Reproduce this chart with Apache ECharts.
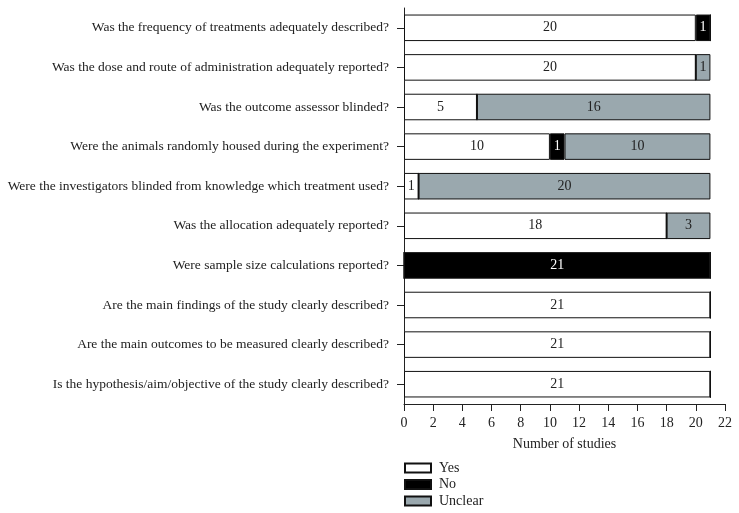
<!DOCTYPE html>
<html>
<head>
<meta charset="utf-8">
<script src="https://cdn.jsdelivr.net/npm/echarts@6/dist/echarts.min.js"></script>
<style>
  html, body { margin: 0; padding: 0; background: #fff; }
  #main { width: 739px; height: 513px; }
</style>
</head>
<body>
<div id="main"></div>
<script>
var questions = [
	'Is the hypothesis/aim/objective of the study clearly described?',
	'Are the main outcomes to be measured clearly described?',
	'Are the main findings of the study clearly described?',
	'Were sample size calculations reported?',
	'Was the allocation adequately reported?',
	'Were the investigators blinded from knowledge which treatment used?',
	'Were the animals randomly housed during the experiment?',
	'Was the outcome assessor blinded?',
	'Was the dose and route of administration adequately reported?',
	'Was the frequency of treatments adequately described?'
];
var yesCounts = [21, 21, 21, 0, 18, 1, 10, 5, 20, 20];
var noCounts = [0, 0, 0, 21, 0, 0, 1, 0, 0, 1];
var unclearCounts = [0, 0, 0, 0, 3, 20, 10, 16, 1, 0];

var font = 'Liberation Serif';
var myChart = echarts.init(document.getElementById('main'));

function makeSeries(name, data, color, labelColor) {
	return {
		name: name,
		type: 'bar',
		stack: 'total',
		barCategoryGap: '33%',
		data: data,
		itemStyle: {
			color: color,
			borderColor: '#111',
			borderWidth: 1
		},
		label: {
			show: true,
			position: 'inside',
			color: labelColor,
			fontFamily: font,
			fontSize: 14,
			formatter: function (p) {
				return p.value ? p.value : '';
			}
		},
		emphasis: { disabled: true }
	};
}

var option = {
	animation: false,
	grid: {
		left: 404,
		right: 14,
		top: 8,
		bottom: 109
	},
	legend: {
		orient: 'vertical',
		left: 404,
		top: 461,
		height: 60,
		padding: 0,
		itemWidth: 26,
		itemHeight: 9,
		itemGap: 2.5,
		icon: 'rect',
		textStyle: {
			fontFamily: font,
			fontSize: 14,
			lineHeight: 14,
			color: '#222',
			padding: [0, 0, 0, 3]
		},
		data: ['Yes', 'No', 'Unclear']
	},
	xAxis: {
		type: 'value',
		min: 0,
		max: 22,
		interval: 2,
		name: 'Number of studies',
		nameLocation: 'middle',
		nameGap: 33,
		nameTextStyle: { fontFamily: font, fontSize: 14, color: '#222' },
		axisLine: { show: true, lineStyle: { color: '#222' } },
		axisTick: { show: true, length: 7, lineStyle: { color: '#222' } },
		axisLabel: { fontFamily: font, fontSize: 14, color: '#222', margin: 12 },
		splitLine: { show: false }
	},
	yAxis: {
		type: 'category',
		data: questions,
		axisLine: { show: true, lineStyle: { color: '#222' } },
		axisTick: { show: true, alignWithLabel: true, length: 7, lineStyle: { color: '#222' } },
		axisLabel: { fontFamily: font, fontSize: 13.5, color: '#222', margin: 15 }
	},
	series: [
		makeSeries('Yes', yesCounts, '#ffffff', '#222'),
		makeSeries('No', noCounts, '#000000', '#fff'),
		makeSeries('Unclear', unclearCounts, '#9aa8ae', '#222')
	]
};
myChart.setOption(option);
</script>
</body>
</html>
